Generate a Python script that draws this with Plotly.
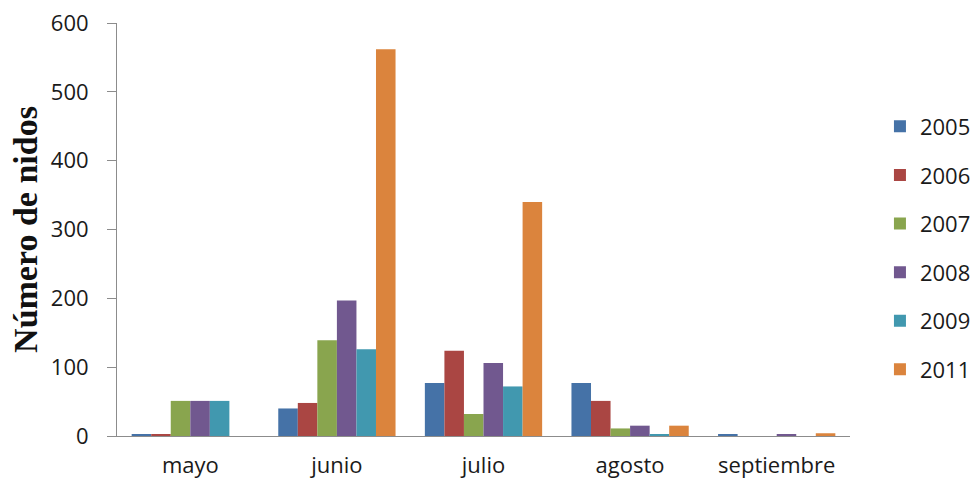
import plotly.graph_objects as go

# Nests counted per month, one series per season
months = ["mayo", "junio", "julio", "agosto", "septiembre"]
years = ["2005", "2006", "2007", "2008", "2009", "2011"]

n2005 = [2, 40, 77, 77, 2]
n2006 = [2, 48, 124, 51, 0]
n2007 = [51, 139, 32, 11, 0]
n2008 = [51, 197, 106, 15, 2]
n2009 = [51, 126, 72, 2, 0]
n2011 = [0, 562, 340, 15, 4]

series = [n2005, n2006, n2007, n2008, n2009, n2011]
colors = ["#4572A7", "#AA4643", "#89A54E", "#71588F", "#4198AF", "#DB843D"]

fig = go.Figure()
for year, values, color in zip(years, series, colors):
    fig.add_trace(go.Bar(
        x=months, y=values, name=year,
        legendgroup=year,
        marker=dict(color=color, line=dict(width=0)),
    ))

axis_font = dict(family="'Open Sans', sans-serif", size=22, color="#1a1a1a")

fig.update_layout(
    width=972, height=482,
    margin=dict(l=117, r=122, t=23, b=46, autoexpand=False),
    paper_bgcolor="white", plot_bgcolor="white",
    barmode="group", bargap=0.2, bargroupgap=0,
    showlegend=True,
    legend=dict(
        xref="container", yref="container",
        x=0.9053, xanchor="left", y=0.781, yanchor="top",
        font=axis_font,
        tracegroupgap=17,
        maxheight=420,
        itemclick=False,
        bgcolor="rgba(0,0,0,0)",
    ),
    xaxis=dict(
        showline=True, linecolor="#8c8c8c", linewidth=1,
        ticks="", tickfont=axis_font, showgrid=False,
        ticklabelstandoff=10, automargin=False,
    ),
    yaxis=dict(
        range=[0, 600], dtick=100,
        showline=True, linecolor="#8c8c8c", linewidth=1,
        ticks="outside", ticklen=9, tickcolor="#8c8c8c",
        tickfont=axis_font, showgrid=False, zeroline=False,
        ticklabelstandoff=14, automargin=False,
        title=dict(
            text="<b>Número de nidos</b>",
            font=dict(family="'Liberation Serif', 'Times New Roman', serif", size=34, color="#111111"),
            standoff=2,
        ),
    ),
)

fig.write_html("out.html")
